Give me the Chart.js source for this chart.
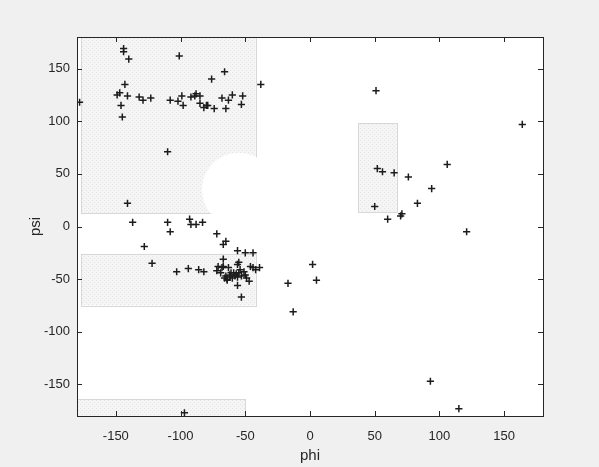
<!DOCTYPE html>
<html>
<head>
<meta charset="utf-8">
<script src="https://cdn.jsdelivr.net/npm/chart.js@4.4.1/dist/chart.umd.min.js"></script>
<style>
  html, body { margin: 0; padding: 0; background: #f0f0f0; }
</style>
</head>
<body>
<canvas id="rama" width="599" height="467"></canvas>
<script>
// dihedral angles (degrees)
const PHI = [
  -178, -144, -144, -140, -101, -143, -149, -147, -141, -146, -145, -132, -129, -123, -108, -102,
  -99, -98, -92, -89, -88, -85, -85, -82, -80, -79, -76, -74, -66, -68, -65, -63, -60, -53, -52,
  -38, -110, -141,
  -137, -110, -108, -93, -92, -88, -83, -128, -122, -72, -67, -65, -56, -50, -44,
  -103, -94, -86, -82, -67, -55, -56, -46, -44, -39, -71, -68, -67, -63, -72, -69, -65, -64, -62,
  -59, -58, -55, -54, -60, -53, -50, -49, -47, -42, -56, -53, -66, -64, -62, -57, -56, -51, -61,
  51, 164, 52, 56, 65, 76, 106, 94, 83, 50, 60, 70, 71, 121, 2, 5, -17, -13, 93, 115, -97
];
const PSI = [
  118, 169, 166, 159, 162, 135, 125, 127, 124, 115, 104, 123, 120, 122, 120, 119,
  124, 115, 123, 124, 126, 124, 117, 113, 115, 115, 140, 112, 147, 122, 112, 120, 125, 116, 124,
  135, 71, 22,
  4, 4, -5, 7, 2, 2, 4, -19, -35, -7, -17, -14, -23, -25, -25,
  -43, -40, -41, -43, -31, -34, -36, -38, -39, -39, -38, -39, -38, -39, -42, -44, -47, -50, -46,
  -44, -47, -44, -41, -49, -47, -46, -49, -52, -41, -56, -67, -49, -51, -48, -45, -48, -43, -44,
  129, 97, 55, 52, 51, 47, 59, 36, 22, 19, 7, 10, 12, -5, -36, -51, -54, -81, -147, -173, -177
];

const X_TICKS = [-150, -100, -50, 0, 50, 100, 150];
const Y_TICKS = [-150, -100, -50, 0, 50, 100, 150];

// allowed regions: [phiMin, phiMax, psiMin, psiMax]
const REGIONS = [
  [-177, -42, 13, 180],
  [-177, -42, -75, -26],
  [37, 67, 13, 98],
  [-180, -50, -180, -164]
];
// cut-out in the beta region: phi, psi, radius (phi units)
const HOLE = [-55, 35, 28.5];

const AXIS_COLOR = '#262626';

function stipple() {
  const c = document.createElement('canvas');
  c.width = 4; c.height = 4;
  const g = c.getContext('2d');
  g.fillStyle = '#f5f5f5';
  g.fillRect(0, 0, 4, 4);
  g.fillStyle = '#e4e4e4';
  g.fillRect(0, 0, 1, 1);
  g.fillRect(2, 2, 1, 1);
  return c;
}

const backdrop = {
  id: 'backdrop',
  beforeDraw(chart) {
    const { ctx, chartArea: a } = chart;
    ctx.save();
    ctx.fillStyle = '#f0f0f0';
    ctx.fillRect(0, 0, chart.width, chart.height);
    ctx.fillStyle = '#ffffff';
    ctx.fillRect(a.left, a.top, a.right - a.left, a.bottom - a.top);
    ctx.restore();
  },
  beforeDatasetsDraw(chart) {
    const { ctx, chartArea: a } = chart;
    const x = chart.scales.x, y = chart.scales.y;
    ctx.save();
    ctx.beginPath();
    ctx.rect(a.left, a.top, a.right - a.left, a.bottom - a.top);
    ctx.clip();
    const pat = ctx.createPattern(stipple(), 'repeat');
    REGIONS.forEach(([p0, p1, s0, s1]) => {
      const l = x.getPixelForValue(p0), r = x.getPixelForValue(p1);
      const t = y.getPixelForValue(s1), b = y.getPixelForValue(s0);
      ctx.fillStyle = pat;
      ctx.fillRect(l, t, r - l, b - t);
      ctx.strokeStyle = '#d8d8d8';
      ctx.lineWidth = 1;
      ctx.strokeRect(Math.round(l) + 0.5, Math.round(t) + 0.5, Math.round(r - l), Math.round(b - t));
    });
    const cx = x.getPixelForValue(HOLE[0]);
    const cy = y.getPixelForValue(HOLE[1]);
    const rad = x.getPixelForValue(HOLE[0] + HOLE[2]) - cx;
    ctx.fillStyle = '#ffffff';
    ctx.beginPath();
    ctx.arc(cx, cy, rad, 0, Math.PI * 2);
    ctx.fill();
    ctx.restore();
  },
  afterDatasetsDraw(chart) {
    const { ctx, chartArea: a } = chart;
    const x = chart.scales.x, y = chart.scales.y;
    const len = 5;
    ctx.save();
    ctx.strokeStyle = AXIS_COLOR;
    ctx.lineWidth = 1;
    ctx.beginPath();
    X_TICKS.forEach(v => {
      const px = Math.round(x.getPixelForValue(v)) + 0.5;
      ctx.moveTo(px, a.bottom); ctx.lineTo(px, a.bottom - len);
      ctx.moveTo(px, a.top); ctx.lineTo(px, a.top + len);
    });
    Y_TICKS.forEach(v => {
      const py = Math.round(y.getPixelForValue(v)) + 0.5;
      ctx.moveTo(a.left, py); ctx.lineTo(a.left + len, py);
      ctx.moveTo(a.right, py); ctx.lineTo(a.right - len, py);
    });
    ctx.stroke();
    ctx.strokeRect(Math.round(a.left) + 0.5, Math.round(a.top) + 0.5,
      Math.round(a.right - a.left), Math.round(a.bottom - a.top));
    ctx.restore();
  }
};

const tickFont = { family: 'Arial, "Liberation Sans", Helvetica, sans-serif', size: 13 };
const titleFont = { family: 'Arial, "Liberation Sans", Helvetica, sans-serif', size: 15 };

new Chart(document.getElementById('rama'), {
  type: 'scatter',
  data: {
    datasets: [{
      label: 'residues',
      data: PHI.map((p, i) => ({ x: p, y: PSI[i] })),
      pointStyle: 'cross',
      pointRadius: 3.6,
      pointHoverRadius: 3.6,
      borderColor: '#1c1c1c',
      backgroundColor: '#1c1c1c',
      borderWidth: 1.5
    }]
  },
  options: {
    responsive: false,
    animation: false,
    events: [],
    layout: { padding: { top: 37, right: 56, left: 0, bottom: 0 } },
    plugins: { legend: { display: false }, tooltip: { enabled: false } },
    scales: {
      x: {
        type: 'linear', min: -180, max: 180,
        afterBuildTicks: s => { s.ticks = X_TICKS.map(v => ({ value: v })); },
        afterFit: s => { s.height = 51; },
        grid: { display: false, drawTicks: false },
        border: { display: false },
        ticks: { color: AXIS_COLOR, font: tickFont, padding: 13, maxRotation: 0 },
        title: { display: true, text: 'phi', color: AXIS_COLOR, font: titleFont, padding: { top: 0, bottom: 2 } }
      },
      y: {
        type: 'linear', min: -180, max: 180,
        afterBuildTicks: s => { s.ticks = Y_TICKS.map(v => ({ value: v })); },
        afterFit: s => { s.width = 77; },
        grid: { display: false, drawTicks: false },
        border: { display: false },
        ticks: { color: AXIS_COLOR, font: tickFont, padding: 7 },
        title: { display: true, text: 'psi', color: AXIS_COLOR, font: titleFont, padding: { top: 27, bottom: 0 } }
      }
    }
  },
  plugins: [backdrop]
});
</script>
</body>
</html>
